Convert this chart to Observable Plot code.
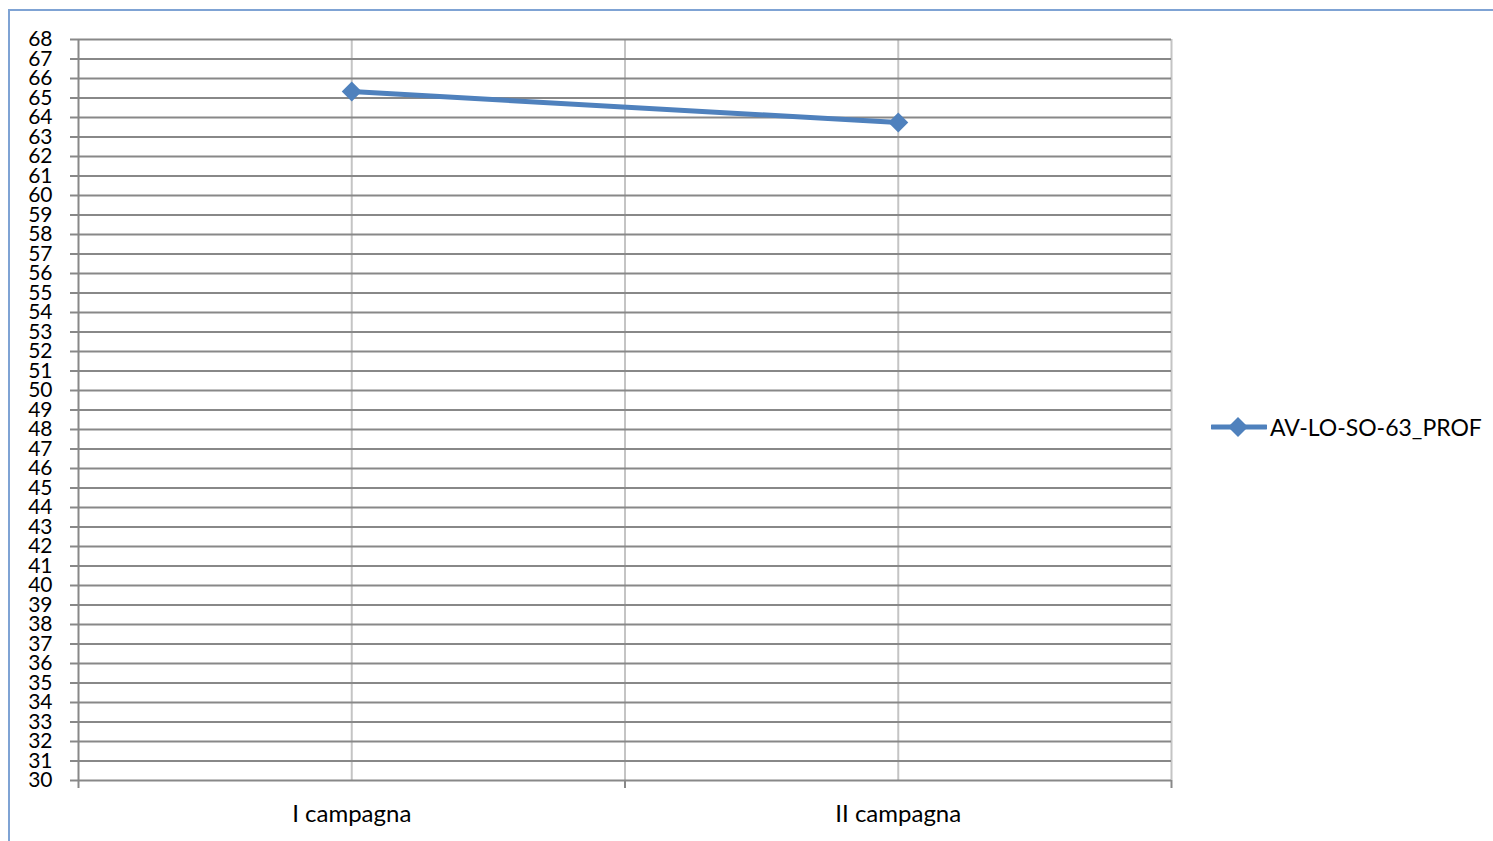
<!DOCTYPE html>
<html>
<head>
<meta charset="utf-8">
<script src="https://cdn.jsdelivr.net/npm/d3@7"></script>
<script src="https://cdn.jsdelivr.net/npm/@observablehq/plot@0.6"></script>
<style>
  html, body { margin: 0; padding: 0; background: #fff; }
  body { width: 1493px; height: 841px; position: relative; overflow: hidden; font-family: Lato, "Open Sans", sans-serif; }
  #frame { position: absolute; left: 8px; top: 9px; width: 1600px; height: 900px; border-top: 2px solid #7FA3D4; border-left: 2px solid #7FA3D4; box-sizing: border-box; }
  #chart { position: absolute; left: 0; top: 0; }
  #legend { position: absolute; left: 1211px; top: 413px; display: flex; align-items: center; font-size: 23px; color: #000; }
  #legend span { margin-left: 3px; }
</style>
</head>
<body>
<div id="frame"></div>
<div id="chart"></div>
<div id="legend"><svg width="56" height="28"><line x1="1" y1="14" x2="55" y2="14" stroke="#4F81BD" stroke-width="5" stroke-linecap="round"/><path d="M27,4 L37,14 L27,24 L17,14 Z" fill="#4F81BD"/></svg><span id="legname"></span></div>
<script>
const categories = ["I campagna", "II campagna"];
const seriesName = "AV-LO-SO-63_PROF";
const values = [65.33, 63.74];
const yTicks = d3.range(30, 69);

const data = categories.map((c, i) => ({cat: c, pos: i + 0.5, value: values[i]}));
const catPos = categories.map((c, i) => i + 0.5);
const boundaries = d3.range(0, categories.length + 1);
const vGrid = [...catPos, ...boundaries.slice(1)];

document.getElementById("legname").textContent = seriesName;

const chart = Plot.plot({
  width: 1493,
  height: 841,
  marginLeft: 78,
  marginRight: 322,
  marginTop: 39,
  marginBottom: 61,
  style: {fontFamily: "Lato, 'Open Sans', sans-serif", background: "transparent", color: "#000"},
  x: {type: "linear", domain: [0, categories.length], label: null},
  y: {domain: [30, 68], label: null},
  marks: [
    Plot.ruleX(vGrid, {stroke: "#C4C4C4", strokeWidth: 2, strokeOpacity: 1}),
    Plot.ruleY(yTicks, {stroke: "#888888", strokeWidth: 2, strokeOpacity: 1}),
    Plot.ruleX([0], {stroke: "#888888", strokeWidth: 2}),
    Plot.axisY({ticks: yTicks, tickSize: 8, tickPadding: 18, tickFormat: d => String(d), fontSize: 21, stroke: "#888888", strokeWidth: 2, strokeOpacity: 1, fill: "#000", label: null}),
    Plot.axisX({ticks: boundaries, tickSize: 8, tickFormat: () => "", stroke: "#888888", strokeWidth: 2, strokeOpacity: 1, label: null}),
    Plot.axisX({ticks: catPos, tickSize: 0, tickPadding: 24, tickFormat: (d) => categories[Math.round(d - 0.5)], fontSize: 24, fill: "#000", label: null}),
    Plot.line(data, {x: "pos", y: "value", stroke: "#4F81BD", strokeWidth: 5, strokeLinecap: "round", strokeLinejoin: "round"}),
    Plot.dot(data, {x: "pos", y: "value", symbol: "diamond2", r: 9, fill: "#4F81BD", stroke: "none"})
  ]
});
document.getElementById("chart").appendChild(chart);
</script>
</body>
</html>
